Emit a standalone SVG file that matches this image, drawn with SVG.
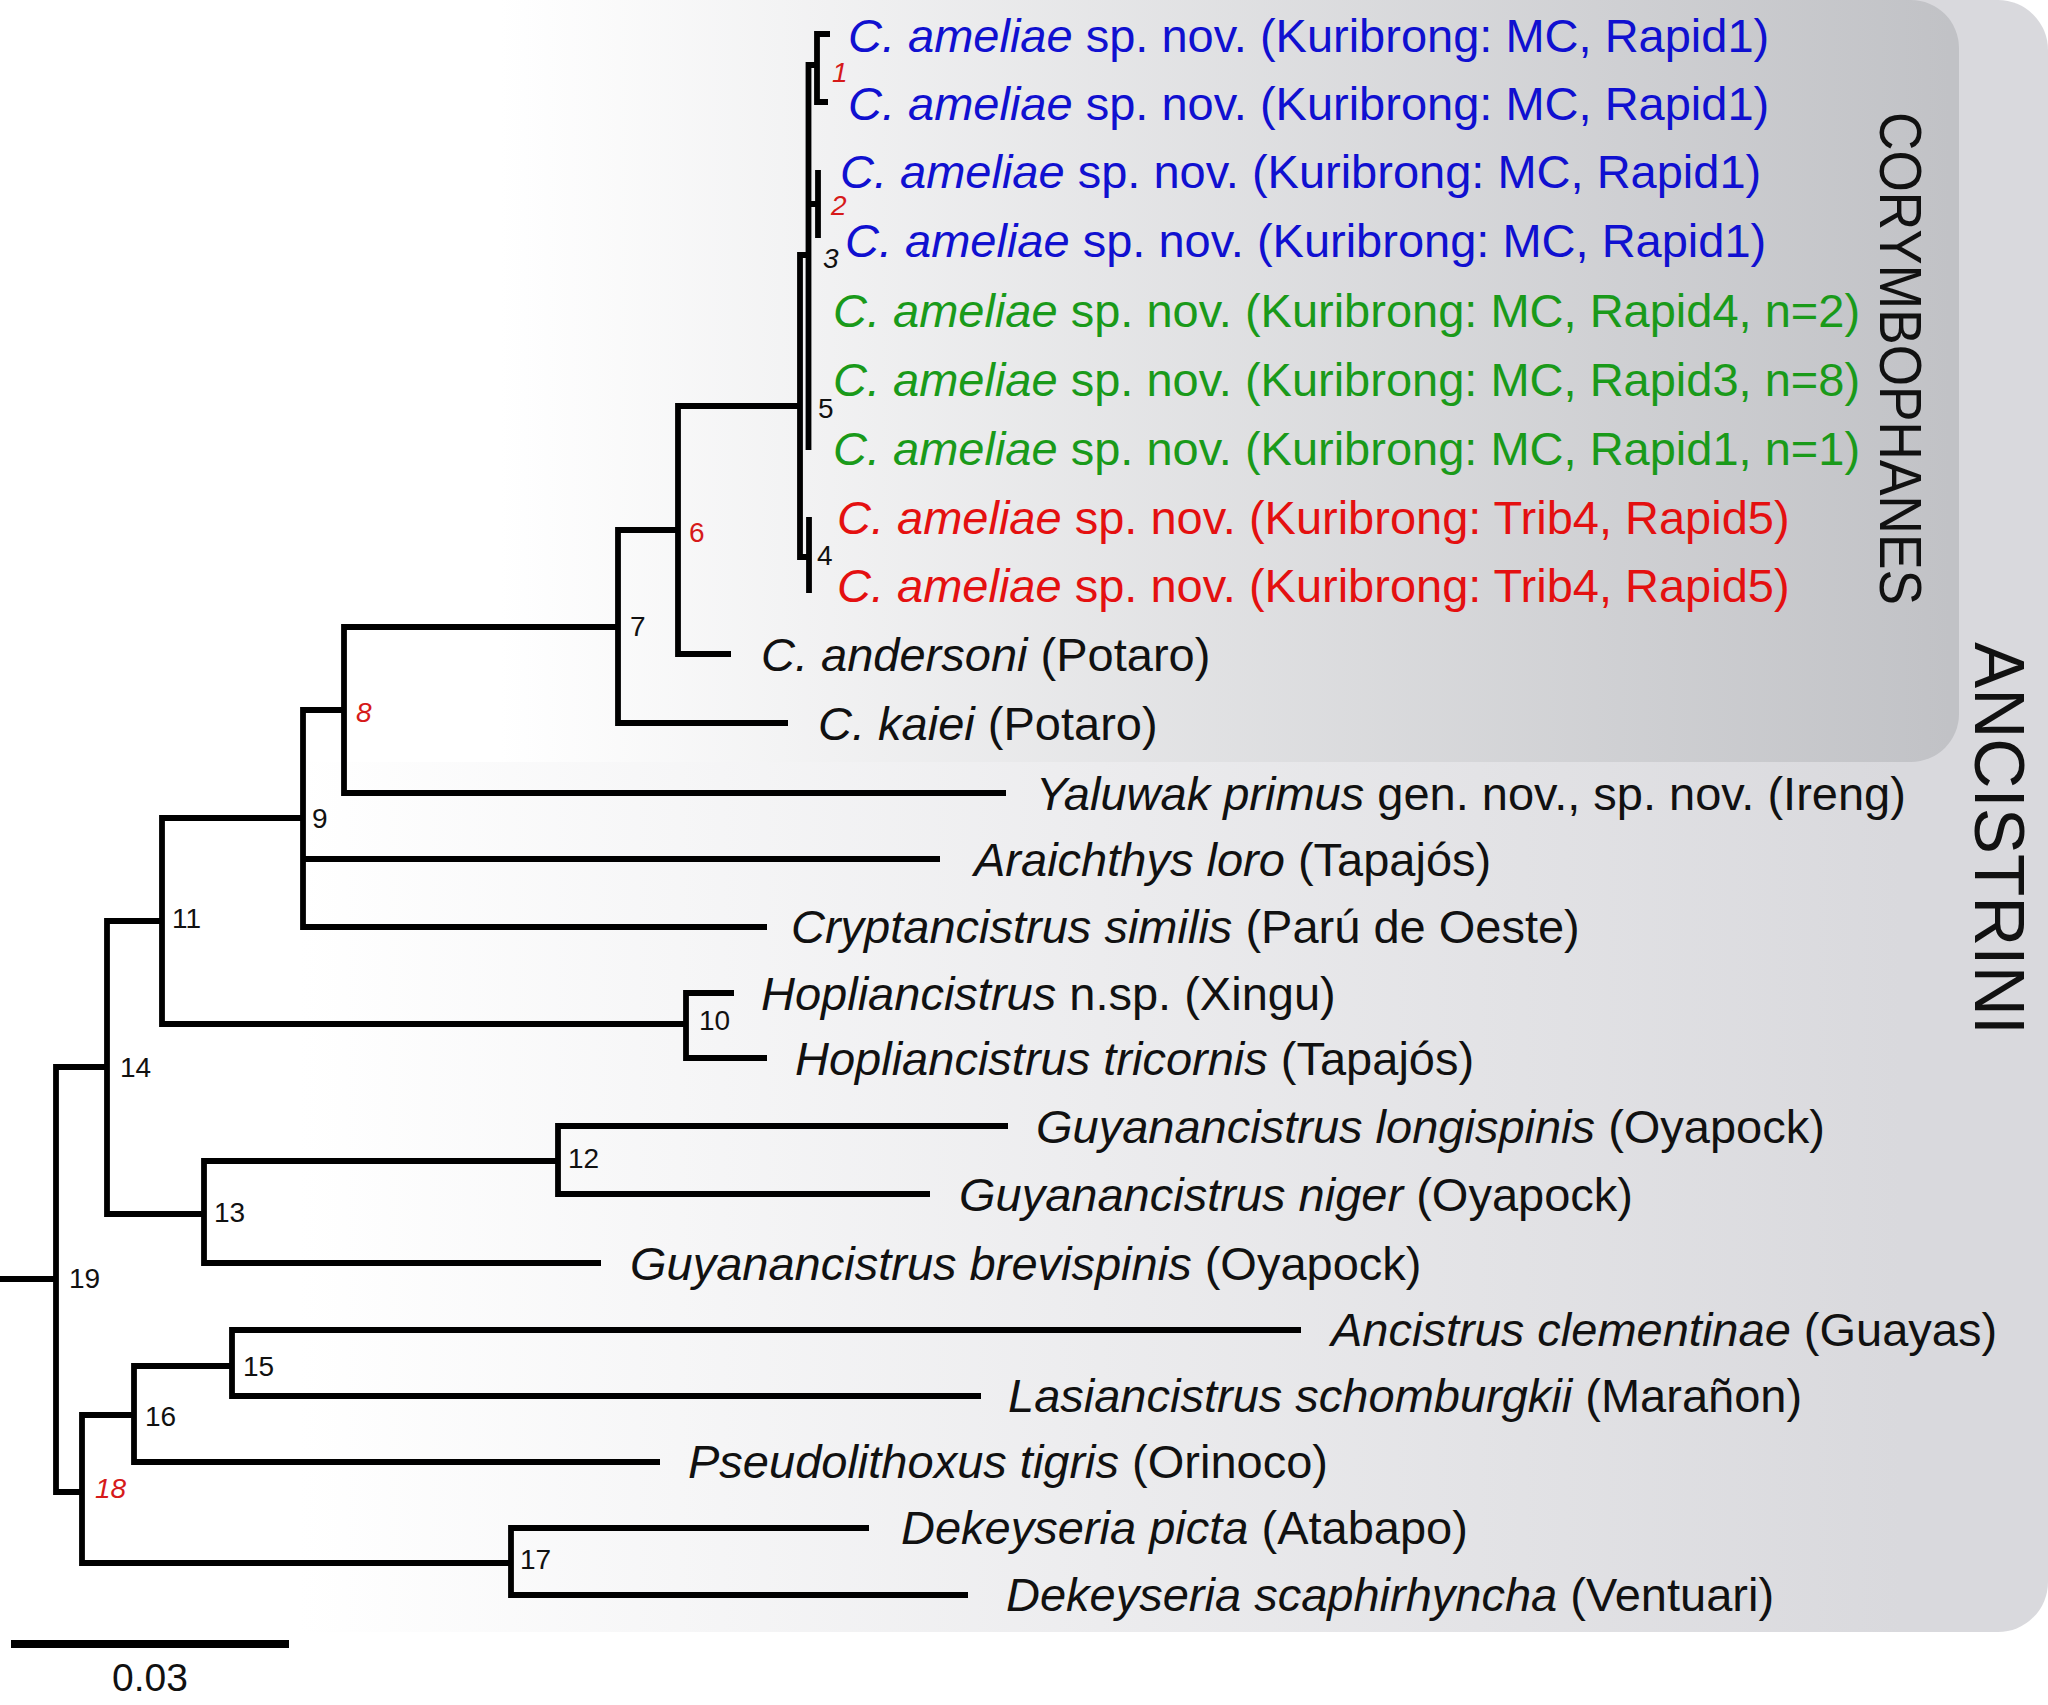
<svg xmlns="http://www.w3.org/2000/svg" width="2048" height="1705" viewBox="0 0 2048 1705">
<defs>
<linearGradient id="gOuter" gradientUnits="userSpaceOnUse" x1="300" y1="0" x2="1900" y2="0">
<stop offset="0" stop-color="#ffffff"/>
<stop offset="1" stop-color="#d9d9dd"/>
</linearGradient>
<linearGradient id="gInner" gradientUnits="userSpaceOnUse" x1="500" y1="0" x2="1950" y2="0">
<stop offset="0" stop-color="#ffffff"/>
<stop offset="1" stop-color="#c1c2c6"/>
</linearGradient>
</defs>
<style>
.t{font-family:"Liberation Sans",Arial,sans-serif;font-size:47px;fill:#111}
.i{font-style:italic}
.blue{fill:#1010d0}
.green{fill:#1a9a1a}
.red{fill:#e41010}
.n{font-family:"Liberation Sans",Arial,sans-serif;font-size:28px;fill:#111}
.nr{fill:#d61a1a}
.br{fill:none;stroke:#000;stroke-width:5.8;stroke-linejoin:miter;stroke-linecap:butt}
.grp{font-family:"Liberation Sans",Arial,sans-serif;fill:#111}
.scale{font-family:"Liberation Sans",Arial,sans-serif;font-size:39px;fill:#111}
</style>
<rect width="2048" height="1705" fill="#ffffff"/>
<g id="clade-ancistrini">
<rect x="-60" y="0" width="2108" height="1632" rx="50" ry="50" fill="url(#gOuter)"/>
<text class="grp" font-size="70" textLength="393" lengthAdjust="spacingAndGlyphs" transform="translate(1975,642) rotate(90)">ANCISTRINI</text>
</g>
<g id="clade-corymbophanes">
<rect x="-60" y="0" width="2019" height="762" rx="48" ry="48" fill="url(#gInner)"/>
<text class="grp" font-size="60" textLength="493" lengthAdjust="spacingAndGlyphs" transform="translate(1880,112) rotate(90)">CORYMBOPHANES</text>
</g>
<g id="connectors">
<path class="br" d="M0 1279 H56"/>
<path class="br" d="M107 1067 H56 V1492 H82"/>
<path class="br" d="M162 921 H107 V1214 H204"/>
<path class="br" d="M303 818 H162 V1024 H686"/>
<path class="br" d="M344 710 H303 V927 H767 M303 859 H940"/>
<path class="br" d="M618 627 H344 V793 H1006"/>
<path class="br" d="M678 530 H618 V723 H788"/>
<path class="br" d="M800 406 H678 V654 H731"/>
<path class="br" d="M808.5 255 H800 V557 H809"/>
<path class="br" d="M817 65 H808.5 V450 M808.5 204 H818"/>
<path class="br" d="M830 34 H817 V102 H828"/>
<path class="br" d="M818 170 V238"/>
<path class="br" d="M809 517 V593"/>
<path class="br" d="M734 993 H686 V1058 H767"/>
<path class="br" d="M558 1161 H204 V1263 H601"/>
<path class="br" d="M1008 1126 H558 V1194 H930"/>
<path class="br" d="M134 1415 H82 V1563 H511"/>
<path class="br" d="M232 1366 H134 V1462 H660"/>
<path class="br" d="M1301 1330 H232 V1396 H981"/>
<path class="br" d="M869 1528 H511 V1595 H968"/>
</g>
<g id="scale-bar">
<path d="M11 1644 H289" stroke="#000" stroke-width="8" fill="none"/>
<text class="scale" x="150" y="1691" text-anchor="middle">0.03</text>
</g>
<g id="taxon-01"><text class="t blue" x="848" y="52"><tspan class="i">C. ameliae</tspan> sp. nov. (Kuribrong: MC, Rapid1)</text></g>
<g id="taxon-02"><text class="t blue" x="848" y="120"><tspan class="i">C. ameliae</tspan> sp. nov. (Kuribrong: MC, Rapid1)</text></g>
<g id="taxon-03"><text class="t blue" x="840" y="188"><tspan class="i">C. ameliae</tspan> sp. nov. (Kuribrong: MC, Rapid1)</text></g>
<g id="taxon-04"><text class="t blue" x="845" y="257"><tspan class="i">C. ameliae</tspan> sp. nov. (Kuribrong: MC, Rapid1)</text></g>
<g id="taxon-05"><text class="t green" x="833" y="327"><tspan class="i">C. ameliae</tspan> sp. nov. (Kuribrong: MC, Rapid4, n=2)</text></g>
<g id="taxon-06"><text class="t green" x="833" y="396"><tspan class="i">C. ameliae</tspan> sp. nov. (Kuribrong: MC, Rapid3, n=8)</text></g>
<g id="taxon-07"><text class="t green" x="833" y="465"><tspan class="i">C. ameliae</tspan> sp. nov. (Kuribrong: MC, Rapid1, n=1)</text></g>
<g id="taxon-08"><text class="t red" x="837" y="534"><tspan class="i">C. ameliae</tspan> sp. nov. (Kuribrong: Trib4, Rapid5)</text></g>
<g id="taxon-09"><text class="t red" x="837" y="602"><tspan class="i">C. ameliae</tspan> sp. nov. (Kuribrong: Trib4, Rapid5)</text></g>
<g id="taxon-10"><text class="t" x="761" y="671"><tspan class="i">C. andersoni</tspan> (Potaro)</text></g>
<g id="taxon-11"><text class="t" x="818" y="740"><tspan class="i">C. kaiei</tspan> (Potaro)</text></g>
<g id="taxon-12"><text class="t" x="1036" y="810"><tspan class="i">Yaluwak primus</tspan> gen. nov., sp. nov. (Ireng)</text></g>
<g id="taxon-13"><text class="t" x="974" y="876"><tspan class="i">Araichthys loro</tspan> (Tapajós)</text></g>
<g id="taxon-14"><text class="t" x="791" y="943"><tspan class="i">Cryptancistrus similis</tspan> (Parú de Oeste)</text></g>
<g id="taxon-15"><text class="t" x="761" y="1010"><tspan class="i">Hopliancistrus</tspan> n.sp. (Xingu)</text></g>
<g id="taxon-16"><text class="t" x="795" y="1075"><tspan class="i">Hopliancistrus tricornis</tspan> (Tapajós)</text></g>
<g id="taxon-17"><text class="t" x="1036" y="1143"><tspan class="i">Guyanancistrus longispinis</tspan> (Oyapock)</text></g>
<g id="taxon-18"><text class="t" x="959" y="1211"><tspan class="i">Guyanancistrus niger</tspan> (Oyapock)</text></g>
<g id="taxon-19"><text class="t" x="630" y="1280"><tspan class="i">Guyanancistrus brevispinis</tspan> (Oyapock)</text></g>
<g id="taxon-20"><text class="t" x="1331" y="1346"><tspan class="i">Ancistrus clementinae</tspan> (Guayas)</text></g>
<g id="taxon-21"><text class="t" x="1008" y="1412"><tspan class="i">Lasiancistrus schomburgkii</tspan> (Marañon)</text></g>
<g id="taxon-22"><text class="t" x="688" y="1478"><tspan class="i">Pseudolithoxus tigris</tspan> (Orinoco)</text></g>
<g id="taxon-23"><text class="t" x="901" y="1544"><tspan class="i">Dekeyseria picta</tspan> (Atabapo)</text></g>
<g id="taxon-24"><text class="t" x="1006" y="1611"><tspan class="i">Dekeyseria scaphirhyncha</tspan> (Ventuari)</text></g>
<g id="node-1"><text class="n nr i" x="832" y="82">1</text></g>
<g id="node-2"><text class="n nr i" x="831" y="215">2</text></g>
<g id="node-3"><text class="n i" x="823" y="268">3</text></g>
<g id="node-4"><text class="n" x="817" y="565">4</text></g>
<g id="node-5"><text class="n" x="818" y="418">5</text></g>
<g id="node-6"><text class="n nr" x="689" y="542">6</text></g>
<g id="node-7"><text class="n" x="630" y="636">7</text></g>
<g id="node-8"><text class="n nr i" x="356" y="722">8</text></g>
<g id="node-9"><text class="n" x="312" y="828">9</text></g>
<g id="node-10"><text class="n" x="699" y="1030">10</text></g>
<g id="node-11"><text class="n" x="172" y="928">11</text></g>
<g id="node-12"><text class="n" x="568" y="1168">12</text></g>
<g id="node-13"><text class="n" x="214" y="1222">13</text></g>
<g id="node-14"><text class="n" x="120" y="1077">14</text></g>
<g id="node-15"><text class="n" x="243" y="1376">15</text></g>
<g id="node-16"><text class="n" x="145" y="1426">16</text></g>
<g id="node-17"><text class="n" x="520" y="1569">17</text></g>
<g id="node-18"><text class="n nr i" x="95" y="1498">18</text></g>
<g id="node-19"><text class="n" x="69" y="1288">19</text></g>
</svg>
